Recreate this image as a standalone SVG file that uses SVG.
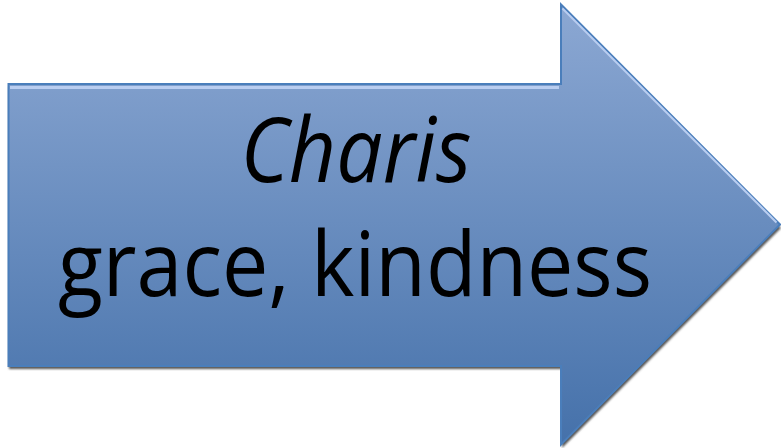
<svg xmlns="http://www.w3.org/2000/svg" width="781" height="448" viewBox="0 0 781 448">
<defs>
<linearGradient id="fill" gradientUnits="userSpaceOnUse" x1="0" y1="4" x2="0" y2="445">
<stop offset="0" stop-color="#8ca8d3"/>
<stop offset="1" stop-color="#4571aa"/>
</linearGradient>
<filter id="sh" x="-5%" y="-5%" width="110%" height="110%">
<feGaussianBlur stdDeviation="0.8"/>
</filter>
</defs>
<style>
.t{font-family:"Open Sans","Liberation Sans",sans-serif;fill:#000;text-anchor:middle}
</style>
<g id="arrow">
<polygon points="9,87 562,87 562,8 781,228 562,448 562,369 9,369" fill="#555" filter="url(#sh)"/>
<polygon points="8.5,84 561,84 561,4.5 780,224.5 561,444.5 561,366 8.5,366" fill="url(#fill)" stroke="#4a7ebb" stroke-width="2" stroke-linejoin="miter"/>
<polyline points="10,87.5 559,87.5" fill="none" stroke="#b9cdf0" stroke-width="3"/>
<polyline points="562.5,8.5 776.5,222.5" fill="none" stroke="#b9cdf0" stroke-width="2"/>
<text class="t" x="356" y="182" font-size="89" font-style="italic" textLength="231" lengthAdjust="spacingAndGlyphs">Charis</text>
<text class="t" x="355" y="296" font-size="89" textLength="594" lengthAdjust="spacingAndGlyphs">grace, kindness</text>
</g>
</svg>
